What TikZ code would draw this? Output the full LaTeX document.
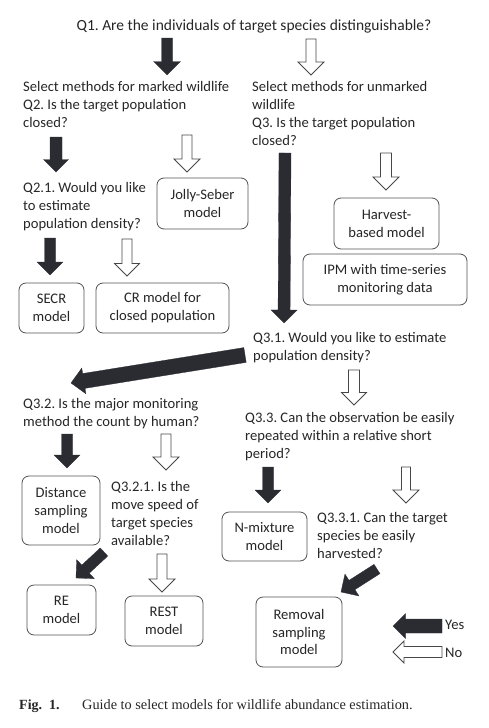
\documentclass[tikz,border=0pt]{standalone}
\usepackage{fontspec}
\setmainfont{Carlito}
\newfontfamily\capfont{Liberation Serif}
\usetikzlibrary{calc}
\frenchspacing
\definecolor{arrowdark}{RGB}{42,44,50}
\definecolor{textdark}{RGB}{38,38,38}
\tikzset{
  question/.style={anchor=north west, align=left, inner sep=0pt, text=textdark, font=\fontsize{14.6}{17.9}\selectfont},
  modelbox/.style={draw=textdark!80, line width=0.8pt, rounded corners=7pt, align=center, inner sep=0pt, text=textdark, font=\fontsize{14.6}{17.9}\selectfont},
  yesarrow/.style={fill=arrowdark, draw=arrowdark, line width=0.3pt},
  noarrow/.style={fill=white, draw=textdark!85, line width=0.8pt},
}
% block arrow: [style]{from}{to}{half shaft}{half head}
\newcommand{\blockarrow}[5][yesarrow]{%
  \coordinate (ah) at ($(#3)!#5!(#2)$);
  \draw[#1] ($(#2)!#4!90:(#3)$) -- ($(ah)!#4!90:(#3)$) -- ($(ah)!#5!90:(#3)$) -- (#3)
    -- ($(ah)!#5!-90:(#3)$) -- ($(ah)!#4!-90:(#3)$) -- ($(#2)!#4!-90:(#3)$) -- cycle;
}
\begin{document}
\begin{tikzpicture}[x=1pt,y=-1pt]
  \useasboundingbox (0,0) rectangle (488,728);
  % Questions
  \node[question, anchor=base, font=\fontsize{15.5}{18}\selectfont] (q1) at (254,30) {Q1. Are the individuals of target species distinguishable?};
  \node[question] (q2) at (23,81) {Select methods for marked wildlife\\Q2. Is the target population\\closed?};
  \node[question] (q3) at (252,81) {Select methods for unmarked\\wildlife\\Q3. Is the target population\\closed?};
  \node[question] (q21) at (23,182) {Q2.1. Would you like\\to estimate\\population density?};
  \node[question] (q31) at (253,332) {Q3.1. Would you like to estimate\\population density?};
  \node[question] (q32) at (23,398) {Q3.2. Is the major monitoring\\method the count by human?};
  \node[question] (q33) at (245,412) {Q3.3. Can the observation be easily\\repeated within a relative short\\period?};
  \node[question] (q321) at (111,481) {Q3.2.1. Is the\\move speed of\\target species\\available?};
  \node[question] (q331) at (317,512) {Q3.3.1. Can the target\\species be easily\\harvested?};

  % Models
  \node[modelbox, minimum width=91pt, minimum height=51pt] (jolly) at (202.5,203.5) {Jolly-Seber\\model};
  \node[modelbox, minimum width=105pt, minimum height=51pt] (harvest) at (386.5,223.5) {Harvest-\\based model};
  \node[modelbox, minimum width=164pt, minimum height=51pt] (ipm) at (385,279.5) {IPM with time-series\\monitoring data};
  \node[modelbox, minimum width=65pt, minimum height=50pt] (secr) at (51.5,308) {SECR\\model};
  \node[modelbox, minimum width=133pt, minimum height=50pt] (cr) at (162.5,308) {CR model for\\closed population};
  \node[modelbox, minimum width=78pt, minimum height=69pt] (distance) at (61,510.5) {Distance\\sampling\\model};
  \node[modelbox, minimum width=85pt, minimum height=49pt] (nmix) at (264.5,536.5) {N-mixture\\model};
  \node[modelbox, minimum width=69pt, minimum height=50pt] (re) at (61.5,610) {RE\\model};
  \node[modelbox, minimum width=78pt, minimum height=50pt] (rest) at (164,621) {REST\\model};
  \node[modelbox, minimum width=86pt, minimum height=70pt] (removal) at (299,632) {Removal\\sampling\\model};

  % Arrow ends
  \coordinate (q1-yes) at (167,38);   \coordinate (q1-yes-end) at (167,75);
  \coordinate (q1-no) at (311,39);    \coordinate (q1-no-end) at (311,75);
  \coordinate (q2-yes) at (56,137);   \coordinate (q2-yes-end) at (56,172);
  \coordinate (q2-no) at (187,135);   \coordinate (q2-no-end) at (187,172);
  \coordinate (q3-yes) at (285,153);  \coordinate (q3-yes-end) at (284,323);
  \coordinate (q3-no) at (386,153);   \coordinate (q3-no-end) at (386,190);
  \coordinate (q21-yes) at (50,238);  \coordinate (q21-yes-end) at (50,275);
  \coordinate (q21-no) at (127,239);  \coordinate (q21-no-end) at (127,276);
  \coordinate (q31-yes) at (245,355); \coordinate (q31-yes-end) at (71,383);
  \coordinate (q31-no) at (354,370);  \coordinate (q31-no-end) at (354,405);
  \coordinate (q32-yes) at (67,434);  \coordinate (q32-yes-end) at (67,468);
  \coordinate (q32-no) at (166,434);  \coordinate (q32-no-end) at (166,470);
  \coordinate (q33-yes) at (268,467); \coordinate (q33-yes-end) at (268,503);
  \coordinate (q33-no) at (406,467);  \coordinate (q33-no-end) at (406,503);
  \coordinate (q321-yes) at (104,552); \coordinate (q321-yes-end) at (76,578);
  \coordinate (q321-no) at (162,554); \coordinate (q321-no-end) at (162,592);
  \coordinate (q331-yes) at (377,569); \coordinate (q331-yes-end) at (341,592);

  % Yes arrows
  \blockarrow{q1-yes}{q1-yes-end}{5.5pt}{13.5pt}
  \blockarrow{q2-yes}{q2-yes-end}{6pt}{12.5pt}
  \blockarrow{q3-yes}{q3-yes-end}{6pt}{13pt}
  \blockarrow{q21-yes}{q21-yes-end}{5.5pt}{13pt}
  \blockarrow{q31-yes}{q31-yes-end}{7.5pt}{13pt}
  \blockarrow{q32-yes}{q32-yes-end}{5.5pt}{13pt}
  \blockarrow{q33-yes}{q33-yes-end}{5.5pt}{13pt}
  \blockarrow{q321-yes}{q321-yes-end}{5.5pt}{13pt}
  \blockarrow{q331-yes}{q331-yes-end}{5.5pt}{13pt}
  % No arrows
  \blockarrow[noarrow]{q1-no}{q1-no-end}{5pt}{13pt}
  \blockarrow[noarrow]{q2-no}{q2-no-end}{5pt}{13pt}
  \blockarrow[noarrow]{q3-no}{q3-no-end}{5.5pt}{13pt}
  \blockarrow[noarrow]{q21-no}{q21-no-end}{5pt}{12.5pt}
  \blockarrow[noarrow]{q31-no}{q31-no-end}{5.5pt}{12.5pt}
  \blockarrow[noarrow]{q32-no}{q32-no-end}{5pt}{13pt}
  \blockarrow[noarrow]{q33-no}{q33-no-end}{4.5pt}{13pt}
  \blockarrow[noarrow]{q321-no}{q321-no-end}{5pt}{13pt}

  % Legend
  \coordinate (leg-yes) at (442,626); \coordinate (leg-yes-end) at (393,626);
  \coordinate (leg-no) at (442,652);  \coordinate (leg-no-end) at (393,652);
  \blockarrow{leg-yes}{leg-yes-end}{7pt}{12.5pt}
  \blockarrow[noarrow]{leg-no}{leg-no-end}{5.5pt}{11pt}
  \node[question, anchor=base west] (yes) at (445,629) {Yes};
  \node[question, anchor=base west] (no) at (445,657) {No};

  % Caption
  \node[anchor=base west, inner sep=0pt, font=\capfont\fontsize{14}{17}\selectfont, text=black!85] (figlabel) at (19,709) {\textbf{Fig.~~1.}};
  \node[anchor=base west, inner sep=0pt, font=\capfont\fontsize{14.3}{17}\selectfont, text=black!85] (caption) at (82,709) {Guide to select models for wildlife abundance estimation.};
\end{tikzpicture}
\end{document}
